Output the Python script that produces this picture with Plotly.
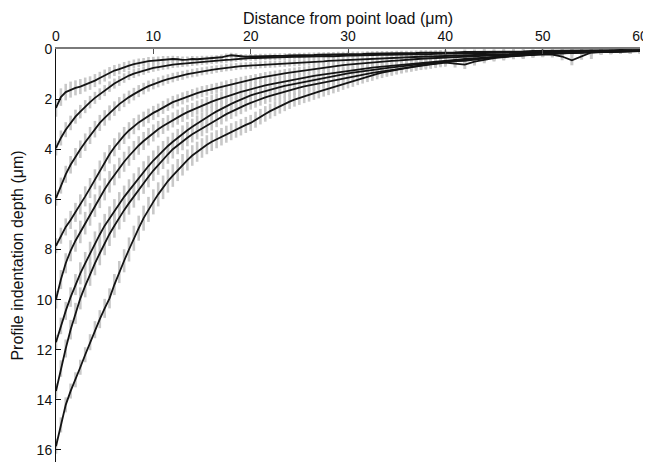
import plotly.graph_objects as go

# x positions (µm): 0..40 step 0.5, then 41..60 step 1
x = [i * 0.5 for i in range(81)] + list(range(41, 61))

depth_A = [2.35,1.92,1.72,1.62,1.55,1.5,1.42,1.36,1.26,1.16,1.06,0.95,0.86,0.8,0.72,0.66,0.6,0.55,0.52,0.48,0.46,0.45,0.42,0.42,0.4,0.41,0.43,0.42,0.4,0.41,0.39,0.38,0.37,0.36,0.33,0.28,0.25,0.27,0.3,0.31,0.3,
           0.3,0.29,0.29,0.28,0.28,0.27,0.27,0.26,0.26,0.25,0.25,0.24,0.24,0.23,0.23,0.22,0.22,0.21,0.21,0.2,
           0.2,0.2,0.2,0.19,0.19,0.18,0.18,0.18,0.18,0.17,0.17,0.17,0.17,0.16,0.15,0.15,0.16,0.15,0.14,0.13,
           0.14,0.12,0.12,0.1,0.11,0.1,0.09,0.1,0.08,0.08,0.07,0.08,0.06,0.07,0.05,0.06,0.05,0.04,0.05,0.05]
err_A = [0.35,0.35,0.33,0.32,0.3,0.3,0.28,0.27,0.26,0.25,0.24,0.23,0.22,0.21,0.2,0.19,0.18,0.17,0.16,0.16,0.15,0.15,0.14,0.14,0.13,0.13,0.13,0.12,0.12,0.12,0.12,0.11,0.11,0.11,0.11,0.1,0.1,0.1,0.1,0.1,0.1,
         0.1,0.1,0.1,0.1,0.1,0.1,0.1,0.1,0.1,0.1,0.1,0.1,0.1,0.1,0.1,0.1,0.1,0.1,0.1,0.1,
         0.1,0.1,0.1,0.1,0.1,0.1,0.1,0.1,0.1,0.1,0.1,0.1,0.1,0.1,0.1,0.1,0.1,0.1,0.1,0.1,
         0.1,0.1,0.1,0.1,0.1,0.1,0.1,0.3,0.1,0.1,0.1,0.1,0.1,0.1,0.35,0.1,0.1,0.1,0.12,0.1]

depth_B = [3.95,3.55,3.22,2.95,2.7,2.5,2.3,2.12,1.95,1.8,1.66,1.5,1.38,1.27,1.16,1.06,0.98,0.92,0.86,0.8,0.75,0.72,0.68,0.66,0.62,0.6,0.58,0.57,0.55,0.53,0.51,0.5,0.48,0.46,0.45,0.43,0.42,0.4,0.38,0.37,0.36,
           0.36,0.35,0.34,0.34,0.33,0.33,0.33,0.32,0.31,0.31,0.3,0.3,0.31,0.29,0.28,0.28,0.29,0.27,0.26,0.26,
           0.26,0.25,0.25,0.24,0.24,0.24,0.23,0.23,0.23,0.22,0.22,0.21,0.21,0.21,0.21,0.2,0.2,0.19,0.19,0.18,
           0.18,0.17,0.16,0.16,0.15,0.14,0.14,0.13,0.12,0.12,0.11,0.11,0.1,0.1,0.09,0.09,0.08,0.08,0.07,0.07]
err_B = [0.3,0.3,0.3,0.29,0.28,0.27,0.26,0.25,0.24,0.23,0.22,0.21,0.2,0.2,0.19,0.18,0.18,0.17,0.17,0.16,0.16,0.15,0.15,0.15,0.14,0.14,0.14,0.13,0.13,0.13,0.13,0.12,0.12,0.12,0.12,0.12,0.12,0.11,0.11,0.11,0.11,
         0.11,0.11,0.11,0.11,0.11,0.11,0.11,0.11,0.11,0.11,0.11,0.11,0.11,0.11,0.11,0.11,0.11,0.11,0.11,0.11,
         0.1,0.1,0.1,0.1,0.1,0.1,0.1,0.1,0.1,0.1,0.1,0.1,0.1,0.1,0.1,0.1,0.1,0.1,0.1,0.1,
         0.1,0.1,0.1,0.1,0.1,0.1,0.1,0.1,0.1,0.1,0.1,0.1,0.1,0.1,0.1,0.1,0.1,0.1,0.1,0.1]

depth_C = [5.95,5.45,5.0,4.62,4.3,4.0,3.72,3.45,3.2,2.95,2.75,2.55,2.38,2.2,2.05,1.92,1.8,1.68,1.58,1.48,1.4,1.33,1.26,1.2,1.14,1.09,1.05,1.0,0.96,0.93,0.89,0.86,0.83,0.8,0.77,0.74,0.72,0.7,0.68,0.67,0.66,
           0.65,0.63,0.62,0.61,0.6,0.59,0.58,0.57,0.56,0.55,0.54,0.52,0.51,0.5,0.49,0.47,0.46,0.45,0.44,0.43,
           0.42,0.41,0.4,0.39,0.38,0.37,0.37,0.36,0.35,0.34,0.33,0.33,0.32,0.32,0.31,0.3,0.3,0.29,0.28,0.28,
           0.27,0.26,0.24,0.23,0.22,0.21,0.2,0.19,0.18,0.17,0.16,0.15,0.14,0.13,0.12,0.11,0.1,0.09,0.08,0.08]
err_C = [0.3,0.32,0.34,0.35,0.35,0.35,0.35,0.34,0.33,0.32,0.31,0.3,0.29,0.28,0.27,0.26,0.25,0.24,0.23,0.22,0.21,0.2,0.2,0.19,0.19,0.18,0.18,0.17,0.17,0.17,0.16,0.16,0.16,0.15,0.15,0.15,0.15,0.14,0.14,0.14,0.14,
         0.14,0.14,0.14,0.14,0.14,0.13,0.13,0.13,0.13,0.13,0.13,0.13,0.13,0.12,0.12,0.12,0.12,0.12,0.12,0.12,
         0.12,0.12,0.12,0.12,0.11,0.11,0.11,0.11,0.11,0.11,0.11,0.11,0.11,0.11,0.11,0.1,0.1,0.1,0.1,0.1,
         0.1,0.1,0.1,0.1,0.1,0.1,0.1,0.1,0.1,0.1,0.1,0.1,0.1,0.1,0.1,0.1,0.1,0.1,0.1,0.1]

depth_D = [7.85,7.45,7.1,6.82,6.52,6.2,5.88,5.55,5.2,4.85,4.5,4.2,3.92,3.68,3.45,3.25,3.08,2.93,2.8,2.67,2.55,2.45,2.33,2.22,2.12,2.05,1.97,1.9,1.83,1.76,1.7,1.65,1.6,1.55,1.5,1.45,1.4,1.35,1.3,1.26,1.22,
           1.18,1.14,1.1,1.07,1.03,1.0,0.97,0.94,0.91,0.88,0.85,0.82,0.79,0.76,0.73,0.7,0.68,0.66,0.64,0.62,
           0.6,0.58,0.56,0.55,0.53,0.52,0.5,0.49,0.47,0.46,0.44,0.43,0.41,0.4,0.39,0.38,0.37,0.36,0.35,0.34,
           0.32,0.3,0.28,0.26,0.24,0.22,0.2,0.19,0.17,0.16,0.15,0.14,0.13,0.12,0.11,0.1,0.09,0.08,0.07,0.07]
err_D = [0.3,0.32,0.34,0.36,0.38,0.4,0.4,0.4,0.4,0.4,0.38,0.37,0.36,0.35,0.34,0.33,0.32,0.31,0.3,0.29,0.28,0.27,0.26,0.25,0.25,0.24,0.24,0.23,0.23,0.22,0.22,0.21,0.21,0.2,0.2,0.2,0.2,0.19,0.19,0.19,0.18,
         0.18,0.18,0.18,0.18,0.17,0.17,0.17,0.17,0.17,0.17,0.16,0.16,0.16,0.16,0.16,0.16,0.15,0.15,0.15,0.15,
         0.15,0.15,0.14,0.14,0.14,0.14,0.14,0.14,0.13,0.13,0.13,0.13,0.13,0.13,0.12,0.12,0.12,0.12,0.12,0.12,
         0.12,0.12,0.11,0.11,0.11,0.11,0.11,0.11,0.1,0.1,0.1,0.1,0.1,0.1,0.1,0.1,0.1,0.1,0.1,0.1]

depth_E = [10.0,9.2,8.55,8.05,7.65,7.3,6.95,6.6,6.25,5.9,5.6,5.3,5.02,4.75,4.5,4.27,4.05,3.85,3.67,3.5,3.35,3.2,3.07,2.95,2.83,2.72,2.62,2.52,2.43,2.34,2.26,2.18,2.1,2.03,1.96,1.89,1.83,1.77,1.71,1.66,1.6,
           1.55,1.5,1.45,1.41,1.37,1.33,1.29,1.25,1.21,1.18,1.14,1.11,1.07,1.04,1.01,0.98,0.95,0.92,0.9,0.87,
           0.84,0.82,0.79,0.77,0.74,0.72,0.7,0.68,0.66,0.64,0.62,0.6,0.58,0.56,0.54,0.52,0.5,0.49,0.47,0.46,
           0.43,0.4,0.37,0.34,0.31,0.28,0.26,0.24,0.22,0.2,0.18,0.17,0.16,0.14,0.13,0.12,0.11,0.1,0.09,0.08]
err_E = [0.35,0.38,0.4,0.42,0.44,0.45,0.45,0.45,0.45,0.45,0.44,0.43,0.42,0.41,0.4,0.39,0.38,0.37,0.36,0.35,0.34,0.33,0.32,0.31,0.3,0.3,0.29,0.29,0.28,0.28,0.27,0.27,0.26,0.26,0.25,0.25,0.25,0.24,0.24,0.24,0.23,
         0.23,0.23,0.23,0.22,0.22,0.22,0.21,0.21,0.21,0.21,0.2,0.2,0.2,0.2,0.19,0.19,0.19,0.19,0.18,0.18,
         0.18,0.18,0.17,0.17,0.17,0.17,0.16,0.16,0.16,0.16,0.15,0.15,0.15,0.15,0.14,0.14,0.14,0.14,0.14,0.14,
         0.13,0.13,0.13,0.12,0.12,0.12,0.12,0.11,0.11,0.11,0.11,0.11,0.1,0.1,0.1,0.1,0.1,0.1,0.1,0.1]

depth_F = [11.7,11.05,10.45,9.9,9.4,8.95,8.55,8.15,7.75,7.4,7.05,6.75,6.45,6.17,5.9,5.65,5.4,5.15,4.9,4.67,4.45,4.25,4.05,3.87,3.7,3.54,3.39,3.24,3.1,2.97,2.84,2.72,2.6,2.49,2.38,2.28,2.19,2.1,2.01,1.93,1.85,
           1.79,1.73,1.67,1.62,1.57,1.52,1.47,1.43,1.38,1.34,1.3,1.26,1.22,1.18,1.14,1.1,1.07,1.03,1.0,0.97,
           0.94,0.91,0.88,0.86,0.83,0.81,0.78,0.76,0.73,0.71,0.68,0.66,0.64,0.62,0.6,0.58,0.56,0.54,0.52,0.5,
           0.47,0.44,0.41,0.37,0.33,0.3,0.27,0.25,0.23,0.21,0.22,0.3,0.45,0.28,0.14,0.12,0.1,0.09,0.08,0.07]
err_F = [0.3,0.33,0.36,0.39,0.42,0.44,0.45,0.46,0.47,0.47,0.47,0.47,0.46,0.46,0.45,0.45,0.44,0.43,0.42,0.41,0.4,0.39,0.38,0.37,0.36,0.35,0.34,0.33,0.32,0.32,0.31,0.3,0.3,0.29,0.29,0.28,0.28,0.27,0.27,0.26,0.26,
         0.26,0.25,0.25,0.25,0.25,0.24,0.24,0.24,0.24,0.23,0.23,0.23,0.23,0.22,0.22,0.22,0.22,0.21,0.21,0.21,
         0.21,0.2,0.2,0.2,0.2,0.19,0.19,0.19,0.19,0.18,0.18,0.18,0.18,0.17,0.17,0.17,0.17,0.16,0.16,0.16,
         0.15,0.15,0.14,0.14,0.13,0.13,0.13,0.12,0.12,0.12,0.12,0.15,0.2,0.15,0.12,0.11,0.11,0.1,0.1,0.1]

depth_G = [13.65,12.75,11.95,11.2,10.55,9.95,9.45,8.98,8.55,8.15,7.75,7.38,7.05,6.73,6.43,6.15,5.88,5.6,5.35,5.1,4.85,4.62,4.4,4.2,4.0,3.84,3.69,3.54,3.4,3.28,3.16,3.05,2.94,2.82,2.71,2.6,2.5,2.41,2.32,2.23,2.15,
           2.07,2.0,1.93,1.87,1.81,1.75,1.69,1.64,1.59,1.54,1.49,1.45,1.4,1.36,1.32,1.28,1.24,1.2,1.16,1.12,
           1.08,1.05,1.01,0.98,0.95,0.92,0.89,0.86,0.83,0.8,0.77,0.74,0.71,0.69,0.66,0.64,0.61,0.59,0.56,0.54,
           0.58,0.62,0.5,0.42,0.36,0.32,0.28,0.25,0.22,0.2,0.18,0.16,0.15,0.13,0.12,0.11,0.1,0.09,0.08,0.07]
err_G = [0.3,0.33,0.36,0.39,0.42,0.44,0.46,0.47,0.48,0.48,0.48,0.48,0.48,0.47,0.47,0.46,0.45,0.44,0.43,0.42,0.41,0.4,0.39,0.38,0.37,0.36,0.35,0.34,0.33,0.33,0.32,0.31,0.31,0.3,0.3,0.29,0.29,0.28,0.28,0.27,0.27,
         0.27,0.26,0.26,0.26,0.26,0.25,0.25,0.25,0.25,0.24,0.24,0.24,0.24,0.23,0.23,0.23,0.23,0.22,0.22,0.22,
         0.22,0.21,0.21,0.21,0.21,0.2,0.2,0.2,0.2,0.19,0.19,0.19,0.19,0.18,0.18,0.18,0.18,0.17,0.17,0.17,
         0.16,0.18,0.16,0.15,0.14,0.14,0.13,0.13,0.12,0.12,0.12,0.12,0.11,0.11,0.11,0.11,0.1,0.1,0.1,0.1]

depth_H = [15.85,15.0,14.2,13.65,13.2,12.7,12.2,11.7,11.2,10.78,10.35,9.95,9.4,8.9,8.45,8.0,7.55,7.15,6.75,6.4,6.1,5.8,5.52,5.27,5.05,4.83,4.62,4.43,4.25,4.1,3.95,3.82,3.7,3.6,3.5,3.4,3.3,3.21,3.12,3.03,2.95,
           2.82,2.7,2.59,2.48,2.38,2.28,2.19,2.1,2.02,1.95,1.88,1.82,1.76,1.7,1.64,1.58,1.51,1.45,1.38,1.32,
           1.26,1.2,1.14,1.09,1.04,0.99,0.94,0.9,0.86,0.82,0.78,0.74,0.71,0.68,0.65,0.62,0.6,0.57,0.54,0.52,
           0.48,0.47,0.42,0.36,0.32,0.28,0.25,0.22,0.2,0.18,0.16,0.15,0.13,0.12,0.11,0.1,0.09,0.08,0.07,0.06]
err_H = [0.3,0.3,0.3,0.3,0.3,0.3,0.3,0.32,0.34,0.36,0.38,0.4,0.42,0.44,0.46,0.48,0.5,0.5,0.5,0.5,0.5,0.48,0.47,0.46,0.45,0.44,0.43,0.42,0.41,0.4,0.39,0.38,0.37,0.36,0.35,0.34,0.34,0.33,0.33,0.32,0.32,
         0.32,0.31,0.31,0.3,0.3,0.3,0.29,0.29,0.28,0.28,0.28,0.28,0.27,0.27,0.26,0.26,0.26,0.26,0.25,0.25,
         0.25,0.24,0.24,0.23,0.23,0.22,0.22,0.21,0.21,0.2,0.2,0.19,0.19,0.18,0.18,0.17,0.17,0.16,0.16,0.15,
         0.15,0.14,0.14,0.13,0.13,0.12,0.12,0.12,0.11,0.11,0.11,0.11,0.1,0.1,0.1,0.1,0.1,0.1,0.1,0.1]

series = [(depth_A, err_A), (depth_B, err_B), (depth_C, err_C), (depth_D, err_D),
          (depth_E, err_E), (depth_F, err_F), (depth_G, err_G), (depth_H, err_H)]

x_ticks = [0, 10, 20, 30, 40, 50, 60]
y_ticks = [0, 2, 4, 6, 8, 10, 12, 14, 16]

N_FINE = 81  # points on the 0.5 µm part of the grid

fig = go.Figure()
# gray error bars first (behind all lines)
for d, e in series:
    for sl, thick in ((slice(0, N_FINE), 2.6), (slice(N_FINE, None), 3.0)):
        fig.add_trace(go.Scatter(
            x=x[sl], y=d[sl], mode="markers",
            marker=dict(size=1, color="rgba(0,0,0,0)"),
            error_y=dict(type="data", array=e[sl], visible=True, color="#c8c8c8", thickness=thick, width=0),
            hoverinfo="skip", showlegend=False))
# black mean profiles on top
for d, e in series:
    fig.add_trace(go.Scatter(
        x=x, y=d, mode="lines",
        line=dict(color="#141414", width=1.8),
        showlegend=False))

font = "Liberation Sans, Arial, sans-serif"
# page body adds an 8 px offset; figure sized/margined so the plot lands at the reference spot
fig.update_layout(
    width=643, height=454,
    margin=dict(l=48, r=11, t=41, b=0),
    paper_bgcolor="white", plot_bgcolor="white",
    font=dict(family=font, size=14, color="#111111"),
    xaxis=dict(
        side="top", range=[0, 60], tickvals=x_ticks, automargin=False,
        ticks="inside", ticklen=5, tickcolor="#555555", tickwidth=1,
        showline=True, linecolor="#7a7a7a", linewidth=2,
        showgrid=False, zeroline=False,
        tickfont=dict(size=14),
        title=dict(text="Distance from point load (μm)", font=dict(size=16), standoff=0),
    ),
    yaxis=dict(
        range=[16.48, 0], tickvals=y_ticks, automargin=False,
        ticks="inside", ticklen=5, tickcolor="#111111", tickwidth=1,
        showline=True, linecolor="#111111", linewidth=1,
        showgrid=False, zeroline=False,
        tickfont=dict(size=14),
        title=dict(text="Profile indentation depth (μm)", font=dict(size=16), standoff=9),
    ),
)

fig.write_html("out.html")
